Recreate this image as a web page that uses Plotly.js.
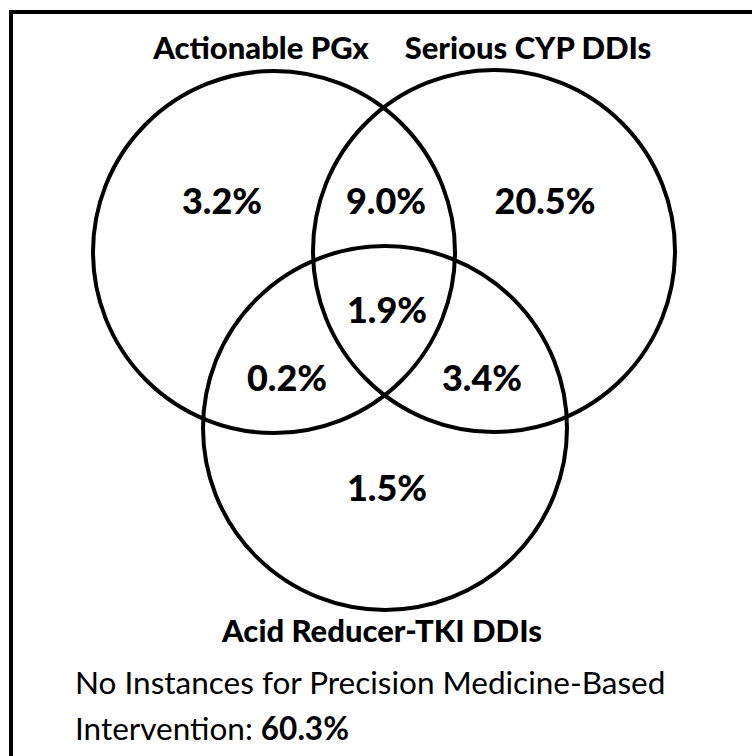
<!DOCTYPE html>
<html>
<head>
<meta charset="utf-8">
<script src="https://cdn.plot.ly/plotly-3.0.1.min.js"></script>
<style>html,body{margin:0;padding:0;background:#fff;}#chart{width:752px;height:756px;}</style>
</head>
<body>
<div id="chart"></div>
<script>
// ---- data ----
const setNames = ["Actionable PGx", "Serious CYP DDIs", "Acid Reducer-TKI DDIs"];
const regionNames = ["PGx only", "PGx & CYP", "CYP only", "All three", "PGx & Acid", "CYP & Acid", "Acid only"];
const regionPercents = [3.2, 9.0, 20.5, 1.9, 0.2, 3.4, 1.5];
const noneText1 = "No Instances for Precision Medicine-Based";
const noneText2 = "Intervention:";
const nonePercent = 60.3;

// ---- layout (pixel geometry, kept separate from data) ----
const circleGeom = [
  {cx: 274, cy: 252, r: 181},
  {cx: 494, cy: 251, r: 181},
  {cx: 385, cy: 428, r: 182}
];
const setLabelPos = [[261, 51], [528, 51], [382, 634]];
const regionPos = [[222, 205], [386, 205], [545, 205], [387, 314], [287, 382], [482, 382], [387, 492]];

const fmt = v => v.toFixed(1) + "%";

const traces = [
  {
    type: "scatter", mode: "text",
    x: regionPos.map(p => p[0]), y: regionPos.map(p => p[1]),
    text: regionPercents.map(fmt),
    customdata: regionNames,
    textposition: "middle center",
    textfont: {family: "Lato, sans-serif", size: 36, color: "#000", weight: 900},
    hoverinfo: "skip", showlegend: false
  },
  {
    type: "scatter", mode: "text",
    x: setLabelPos.map(p => p[0]), y: setLabelPos.map(p => p[1]),
    text: setNames,
    textposition: "middle center",
    textfont: {family: "Lato, sans-serif", size: 31, color: "#000", weight: 900},
    hoverinfo: "skip", showlegend: false
  }
];

const shapes = circleGeom.map(c => ({
  type: "circle", xref: "x", yref: "y",
  x0: c.cx - c.r, x1: c.cx + c.r, y0: c.cy - c.r, y1: c.cy + c.r,
  line: {color: "#000", width: 4}, fillcolor: "rgba(0,0,0,0)"
}));
shapes.push({
  type: "rect", xref: "paper", yref: "paper",
  x0: 11/752, x1: 1.05, y0: 1 - 12/756, y1: -0.05,
  line: {color: "#000", width: 4}
});

const annotations = [
  {
    xref: "x", yref: "y", x: 73, y: 682, xanchor: "left", yanchor: "middle",
    text: noneText1, showarrow: false,
    font: {family: "Lato, sans-serif", size: 31.5, color: "#000"}
  },
  {
    xref: "x", yref: "y", x: 73, y: 728, xanchor: "left", yanchor: "middle",
    text: noneText2 + " <b>" + fmt(nonePercent) + "</b>", showarrow: false,
    font: {family: "Lato, sans-serif", size: 31.5, color: "#000"}
  }
];

const layout = {
  width: 752, height: 756,
  margin: {l: 0, r: 0, t: 0, b: 0},
  paper_bgcolor: "#fff", plot_bgcolor: "#fff",
  xaxis: {range: [0, 752], visible: false, fixedrange: true},
  yaxis: {range: [756, 0], visible: false, fixedrange: true},
  shapes: shapes,
  annotations: annotations,
  showlegend: false
};

Plotly.newPlot("chart", traces, layout, {displayModeBar: false, staticPlot: true});
</script>
</body>
</html>
